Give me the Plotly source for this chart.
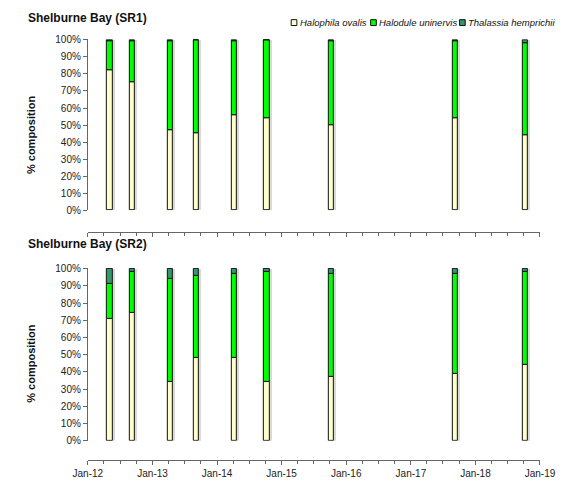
import pandas as pd
import plotly.graph_objects as go

# Sampling dates (same for both sites)
dates = ["2012-05-05", "2012-09-08", "2013-04-10", "2013-09-06", "2014-04-08",
         "2014-10-10", "2015-10-10", "2017-09-10", "2018-10-10"]

# Percent composition, site SR1
sr1_halophila = [82, 75, 47, 45, 56, 54, 50, 54, 44]
sr1_halodule = [17, 24.5, 52.5, 55, 43, 46, 49.5, 45, 54]
sr1_thalassia = [1, 0.5, 0.5, 0, 1, 0, 0.5, 1, 2]

# Percent composition, site SR2
sr2_halophila = [71, 74, 34, 48, 48, 34, 37, 39, 44]
sr2_halodule = [20, 24, 60, 48, 49, 64, 60, 58, 54]
sr2_thalassia = [9, 2, 6, 4, 3, 2, 3, 3, 2]

species = ["Halophila ovalis", "Halodule uninervis", "Thalassia hemprichii"]
colors = ["#FFFFCC", "#00FF00", "#339966"]

W, H = 573, 484
FONT = "Liberation Sans, Arial, sans-serif"
DAY_MS = 86400000
BAR_W = 30 * DAY_MS
SHADOW_SHIFT = 10 * DAY_MS


def px_x(p):
    return p / W


def px_y(p):
    return 1 - p / H


fig = go.Figure()


def add_panel(xa, ya, halophila, halodule, thalassia):
    d = pd.to_datetime(dates)
    tot = [a + b + c for a, b, c in zip(halophila, halodule, thalassia)]
    # soft drop shadow behind each column
    fig.add_trace(go.Bar(
        x=d + pd.Timedelta(milliseconds=SHADOW_SHIFT), y=[t / 100 for t in tot],
        base=0, width=BAR_W, marker=dict(color="#d9d9d9", line=dict(width=0)),
        xaxis=xa, yaxis=ya, showlegend=False, hoverinfo="skip"))
    # stacked species shares
    base = [0.0] * len(dates)
    for name, vals, col in zip(species, [halophila, halodule, thalassia], colors):
        fig.add_trace(go.Bar(
            x=d, y=[v / 100 for v in vals], base=list(base), width=BAR_W,
            name=name, marker=dict(color=col, line=dict(color="#111111", width=1)),
            xaxis=xa, yaxis=ya, showlegend=False))
        base = [b + v / 100 for b, v in zip(base, vals)]


add_panel("x", "y", sr1_halophila, sr1_halodule, sr1_thalassia)
add_panel("x2", "y2", sr2_halophila, sr2_halodule, sr2_thalassia)

x_dom = [px_x(77), px_x(555)]
x_range = ["2012-01-01", "2019-01-01"]

xcommon = dict(
    type="date", range=x_range, domain=x_dom, anchor="free",
    showline=True, linecolor="#666666", linewidth=1,
    ticks="outside", ticklen=4, tickcolor="#666666",
    dtick="M12", tick0="2012-01-01", tickformat="%b-%y",
    minor=dict(dtick="M3", ticks="outside", ticklen=3, tickcolor="#666666"),
    showgrid=False, zeroline=False,
    tickfont=dict(family=FONT, size=10, color="#222222"),
)
ycommon = dict(
    range=[0, 1.004], dtick=0.1, tickformat=".0%", anchor="free",
    position=px_x(76), showline=True, linecolor="#666666", linewidth=1,
    ticks="outside", ticklen=4, tickcolor="#666666",
    showgrid=False, zeroline=False,
    tickfont=dict(family=FONT, size=10, color="#222222"),
)

fig.update_layout(
    width=W, height=H, margin=dict(l=0, r=0, t=0, b=0),
    paper_bgcolor="white", plot_bgcolor="white",
    barmode="overlay", bargap=0,
    xaxis=dict(xcommon, position=px_y(232), showticklabels=False),
    yaxis=dict(ycommon, domain=[px_y(210), px_y(35)]),
    xaxis2=dict(xcommon, position=px_y(466)),
    yaxis2=dict(ycommon, domain=[px_y(446), px_y(269)]),
    font=dict(family=FONT, color="#222222"),
)

annotations = []
shapes = []
# panel titles
for txt, y in [("Shelburne Bay (SR1)", 13), ("Shelburne Bay (SR2)", 245)]:
    annotations.append(dict(text="<b>%s</b>" % txt, x=px_x(12), y=px_y(y),
                            xref="paper", yref="paper", xanchor="left", yanchor="middle",
                            showarrow=False, font=dict(family=FONT, size=12, color="#111111")))
# y-axis titles
for y in [133, 367]:
    annotations.append(dict(text="<b>% composition</b>", x=px_x(17), y=px_y(y),
                            xref="paper", yref="paper", xanchor="center", yanchor="middle",
                            textangle=-90, showarrow=False,
                            font=dict(family=FONT, size=11, color="#111111")))
# legend: outlined swatch followed by italic species name
leg_y = 18
for name, col, sx in zip(species, colors, [295, 379, 473]):
    shapes.append(dict(type="rect", xref="paper", yref="paper",
                       x0=px_x(sx - 3), x1=px_x(sx + 3), y0=px_y(leg_y + 3), y1=px_y(leg_y - 3),
                       fillcolor=col, line=dict(color="#111111", width=1)))
    annotations.append(dict(text="<i>%s</i>" % name, x=px_x(sx + 4), y=px_y(leg_y),
                            xref="paper", yref="paper", xanchor="left", yanchor="middle",
                            showarrow=False, font=dict(family=FONT, size=9.5, color="#111111")))

fig.update_layout(annotations=annotations, shapes=shapes)
fig.write_html("out.html")
